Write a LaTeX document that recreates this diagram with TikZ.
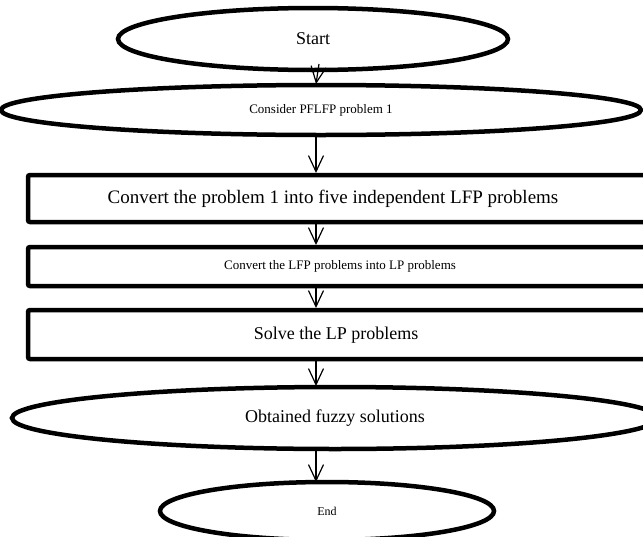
\documentclass[tikz,border=0pt]{standalone}
\usepackage{fontspec}
\setmainfont{Liberation Serif}
\usetikzlibrary{shapes.geometric,arrows.meta}
\begin{document}
\begin{tikzpicture}[x=1pt,y=-1pt,
  term/.style={draw,line width=4.5pt,ellipse,inner sep=0pt},
  proc/.style={draw,line width=4.5pt,rounded corners=2pt,inner sep=0pt},
  flow/.style={line width=1.2pt,-{Straight Barb[length=16pt,width=15pt,line width=1.2pt]}}]
\useasboundingbox (0,0) rectangle (643,536);
\clip (0,0) rectangle (643,536);
\node[term,minimum width=390pt,minimum height=62pt,font=\fontsize{18pt}{20pt}\selectfont] (start) at (313,39) {Start};
\node[term,minimum width=640pt,minimum height=50pt,font=\fontsize{13pt}{15pt}\selectfont] (cons) at (321,110) {Consider PFLFP problem 1};
\draw[proc] (28,175) rectangle (660,222);
\node[font=\fontsize{19pt}{21pt}\selectfont] (conv1) at (333,199) {Convert the problem 1 into five independent LFP problems};
\draw[proc] (28,247) rectangle (660,286);
\node[font=\fontsize{13pt}{15pt}\selectfont] (conv2) at (340,266) {Convert the LFP problems into LP problems};
\draw[proc] (28,310) rectangle (660,359);
\node[font=\fontsize{18pt}{20pt}\selectfont] (solve) at (336,335) {Solve the LP problems};
\node[term,minimum width=646pt,minimum height=62pt,font=\fontsize{18pt}{20pt}\selectfont] (obt) at (335,418) {Obtained fuzzy solutions};
\node[term,minimum width=334pt,minimum height=58pt,font=\fontsize{12pt}{14pt}\selectfont] (end) at (327,511) {End};
\coordinate (a1s) at (319,64);
\coordinate (a1e) at (316,84);
\coordinate (a2s) at (316,133);
\coordinate (a2e) at (316,173);
\coordinate (a3s) at (316,222);
\coordinate (a3e) at (316,245);
\coordinate (a4s) at (316,286);
\coordinate (a4e) at (316,308);
\coordinate (a5s) at (316,359);
\coordinate (a5e) at (316,386);
\coordinate (a6s) at (316,449);
\coordinate (a6e) at (316,482);
\draw[flow] (a1s) -- (a1e);
\draw[flow] (a2s) -- (a2e);
\draw[flow] (a3s) -- (a3e);
\draw[flow] (a4s) -- (a4e);
\draw[flow] (a5s) -- (a5e);
\draw[flow] (a6s) -- (a6e);
\end{tikzpicture}
\end{document}
